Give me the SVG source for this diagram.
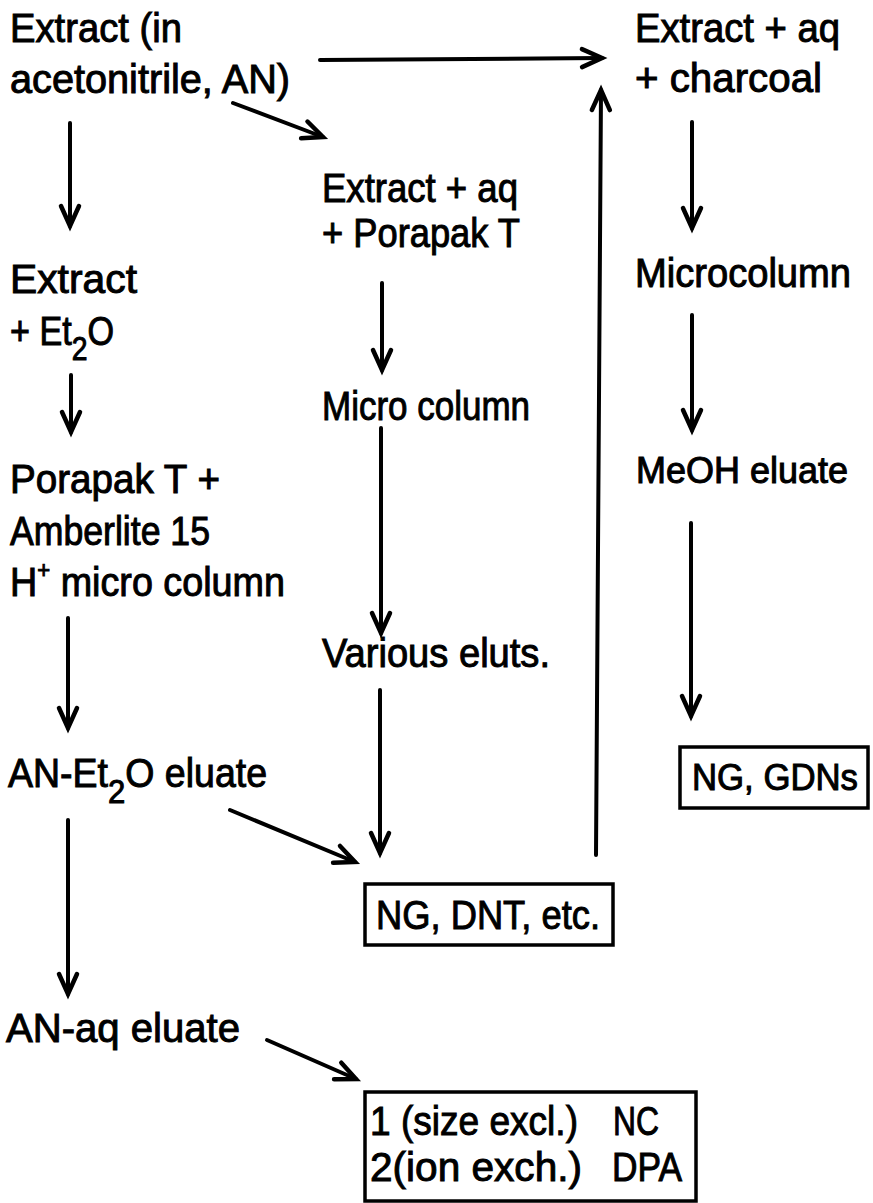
<svg xmlns="http://www.w3.org/2000/svg" width="873" height="1203" viewBox="0 0 873 1203">
<defs>
<marker id="ah" markerUnits="userSpaceOnUse" markerWidth="30" markerHeight="30" viewBox="-24 -14 30 28" refX="0" refY="0" orient="auto">
<path d="M-20,-9 L0,0 L-20,9" fill="none" stroke="#000" stroke-width="4.5" stroke-linejoin="miter" stroke-linecap="round"/>
</marker>
<style>
text{font-family:"Liberation Sans",Arial,sans-serif;font-size:41px;fill:#000;stroke:#000;stroke-width:1}
.c line{stroke:#000;stroke-width:4;stroke-linecap:round;marker-end:url(#ah)}
.box{fill:#fff;stroke:#000;stroke-width:3.5}
.sub{font-size:34px}
.sup{font-size:24px}
.nar{font-size:36px}
</style>
</defs>
<rect width="873" height="1203" fill="#fff"/>
<g class="c" id="connectors">
<line x1="320" y1="60" x2="602" y2="58"/>
<line x1="233" y1="103" x2="323" y2="137"/>
<line x1="70" y1="123" x2="70" y2="226"/>
<line x1="692" y1="122" x2="692" y2="228"/>
<line x1="382" y1="283" x2="382" y2="370"/>
<line x1="71" y1="375" x2="71" y2="432"/>
<line x1="692" y1="315" x2="692" y2="430"/>
<line x1="381" y1="428" x2="381" y2="633"/>
<line x1="68" y1="618" x2="68" y2="728"/>
<line x1="691" y1="523" x2="691" y2="716"/>
<line x1="380" y1="690" x2="380" y2="853"/>
<line x1="230" y1="810" x2="355" y2="862"/>
<line x1="596" y1="855" x2="601" y2="90"/>
<line x1="68" y1="820" x2="68" y2="994"/>
<line x1="267" y1="1040" x2="356" y2="1079"/>
</g>
<g id="n1"><text x="10" y="42" textLength="172" lengthAdjust="spacingAndGlyphs">Extract (in</text><text x="10" y="93" textLength="280" lengthAdjust="spacingAndGlyphs">acetonitrile, AN)</text></g>
<g id="n2"><text x="635" y="42" textLength="205" lengthAdjust="spacingAndGlyphs">Extract + aq</text><text x="635" y="92" textLength="187" lengthAdjust="spacingAndGlyphs">+ charcoal</text></g>
<g id="n3"><text x="322" y="202" textLength="196" lengthAdjust="spacingAndGlyphs">Extract + aq</text><text x="322" y="247" textLength="198" lengthAdjust="spacingAndGlyphs">+ Porapak T</text></g>
<g id="n4"><text x="10" y="293" textLength="127" lengthAdjust="spacingAndGlyphs">Extract</text><text x="10" y="345" textLength="104" lengthAdjust="spacingAndGlyphs">+ Et<tspan class="sub" dy="15">2</tspan><tspan dy="-15">O</tspan></text></g>
<g id="n5"><text x="635" y="287" textLength="216" lengthAdjust="spacingAndGlyphs">Microcolumn</text></g>
<g id="n6"><text x="322" y="420" textLength="208" lengthAdjust="spacingAndGlyphs">Micro column</text></g>
<g id="n7"><text x="10" y="493" textLength="210" lengthAdjust="spacingAndGlyphs">Porapak T  +</text><text x="10" y="545" textLength="200" lengthAdjust="spacingAndGlyphs">Amberlite 15</text><text x="10" y="596" textLength="275" lengthAdjust="spacingAndGlyphs">H<tspan class="sup" dy="-18">+</tspan><tspan dy="18"> micro column</tspan></text></g>
<g id="n8"><text class="nar" x="636" y="483" textLength="212" lengthAdjust="spacingAndGlyphs">MeOH eluate</text></g>
<g id="n9"><text x="322" y="667" textLength="228" lengthAdjust="spacingAndGlyphs">Various eluts.</text></g>
<g id="n10"><text x="8" y="787" textLength="259" lengthAdjust="spacingAndGlyphs">AN-Et<tspan class="sub" dy="16">2</tspan><tspan dy="-16">O eluate</tspan></text></g>
<g id="n11"><rect class="box" x="680" y="747" width="188" height="61"/><text class="nar" x="692" y="790" textLength="166" lengthAdjust="spacingAndGlyphs">NG, GDNs</text></g>
<g id="n12"><rect class="box" x="365" y="884" width="248" height="61"/><text x="376" y="929" textLength="224" lengthAdjust="spacingAndGlyphs">NG, DNT, etc.</text></g>
<g id="n13"><text x="6" y="1042" textLength="234" lengthAdjust="spacingAndGlyphs">AN-aq eluate</text></g>
<g id="n14"><rect class="box" x="365" y="1092" width="331" height="109"/><text x="370" y="1135" textLength="208" lengthAdjust="spacingAndGlyphs">1 (size excl.)</text><text x="613" y="1135" textLength="46" lengthAdjust="spacingAndGlyphs">NC</text><text x="370" y="1181" textLength="212" lengthAdjust="spacingAndGlyphs">2(ion exch.)</text><text x="612" y="1181" textLength="70" lengthAdjust="spacingAndGlyphs">DPA</text></g>
</svg>
